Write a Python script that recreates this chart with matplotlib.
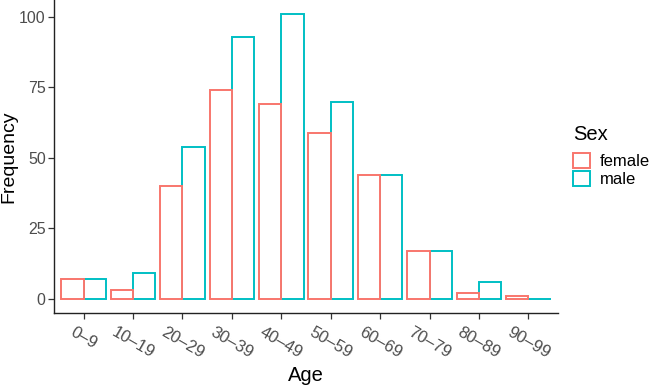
import matplotlib
matplotlib.use("Agg")
import matplotlib.pyplot as plt
from matplotlib.patches import Patch
import numpy as np

plt.rcParams['font.family'] = ['Liberation Sans', 'DejaVu Sans']

age_groups = ["0–9", "10–19", "20–29", "30–39", "40–49", "50–59", "60–69", "70–79", "80–89", "90–99"]
female = [7, 3, 40, 74, 69, 59, 44, 17, 2, 1]
male = [7, 9, 54, 93, 101, 70, 44, 17, 6, 0]
series_names = ["female", "male"]
colors = {"female": "#F8766D", "male": "#00BFC4"}

fig = plt.figure(figsize=(6.5, 3.9), dpi=100)
ax = fig.add_axes([54/650, 1-313/390, (558-54)/650, 313/390])

x = np.arange(len(age_groups))
w = 0.45
lw = 1.4
ax.bar(x + w/2, male, width=w, facecolor="white", edgecolor=colors["male"], linewidth=lw, zorder=2)
ax.bar(x - w/2, female, width=w, facecolor="white", edgecolor=colors["female"], linewidth=lw, zorder=3)

ax.set_xlim(-0.6, len(age_groups) - 0.4)
ax.set_ylim(-5.05, 106.05)
ax.set_yticks([0, 25, 50, 75, 100])
ax.set_xticks(x)
ax.set_xticklabels(age_groups, rotation=-30, ha="center", va="top")

for s in ["top", "right"]:
    ax.spines[s].set_visible(False)
for s in ["left", "bottom"]:
    ax.spines[s].set_linewidth(1.0)
    ax.spines[s].set_color("#222222")

ax.tick_params(axis="both", colors="#333333", labelcolor="#4D4D4D", length=4, width=0.9, pad=2)
ax.tick_params(axis="y", labelsize=11.5)
ax.tick_params(axis="x", labelsize=12, pad=4)

ax.set_ylabel("Frequency", fontsize=14, color="black", labelpad=1)
ax.set_xlabel("Age", fontsize=14.5, color="black", labelpad=4)

fig.text(573/650, 1-140/390, "Sex", fontsize=14.5, color="black", ha="left", va="baseline")
handles = [Patch(facecolor="white", edgecolor=colors[n], linewidth=lw, label=n) for n in series_names]
leg = fig.legend(handles=handles, loc="upper left", bbox_to_anchor=(573/650, 1-153/390),
                 frameon=False, fontsize=12, handlelength=1.0, handleheight=1.0,
                 labelspacing=0.1, handletextpad=0.6, borderaxespad=0, borderpad=0)

fig.savefig("out.png", dpi=100)
